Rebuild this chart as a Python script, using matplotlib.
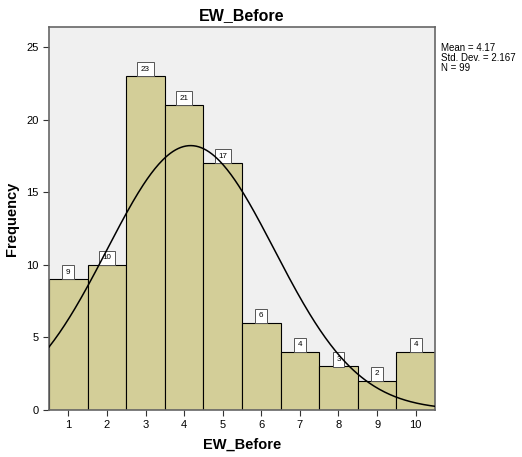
import numpy as np
import matplotlib.pyplot as plt

plt.rcParams['font.family'] = ['Liberation Sans', 'DejaVu Sans']

values = [1, 2, 3, 4, 5, 6, 7, 8, 9, 10]
counts = [9, 10, 23, 21, 17, 6, 4, 3, 2, 4]
mean = 4.17
sd = 2.167
n = 99

fig = plt.figure(figsize=(5.22, 4.57), dpi=100)
ax = fig.add_axes([0.0939, 0.1028, 0.7394, 0.8381])
ax.set_facecolor('#f0f0f0')

ax.bar(values, counts, width=1.0, color='#d3ce98', edgecolor='black', linewidth=0.8, zorder=2)

# normal curve scaled to counts (bin width 1)
xs = np.linspace(0.5, 10.5, 300)
ys = n / (sd * np.sqrt(2 * np.pi)) * np.exp(-0.5 * ((xs - mean) / sd) ** 2)
ax.plot(xs, ys, color='black', linewidth=1.1, zorder=5)

for v, c in zip(values, counts):
    ax.annotate(str(c), (v, c), xytext=(0, 2.6), textcoords='offset points',
                ha='center', va='bottom', fontsize=5.8,
                bbox=dict(boxstyle='square,pad=0.45', fc='white', ec='#555555', lw=0.7),
                zorder=4)

ax.set_xlim(0.5, 10.5)
ax.set_ylim(0, 26.4)
ax.set_xticks(values)
ax.set_yticks([0, 5, 10, 15, 20, 25])
ax.tick_params(labelsize=8, length=4, color='#333333')
for s in ax.spines.values():
    s.set_color('#666666')
    s.set_linewidth(1.2)

ax.set_title('EW_Before', fontsize=11.5, fontweight='bold', pad=5)
ax.set_xlabel('EW_Before', fontsize=10.5, fontweight='bold', labelpad=5)
ax.set_ylabel('Frequency', fontsize=10.5, fontweight='bold', labelpad=5)

fig.text(0.845, 0.905, 'Mean = %.2f\nStd. Dev. = %.3f\nN = %d' % (mean, sd, n),
         fontsize=7, va='top', ha='left', linespacing=0.95)

fig.savefig('out.png', dpi=100)
